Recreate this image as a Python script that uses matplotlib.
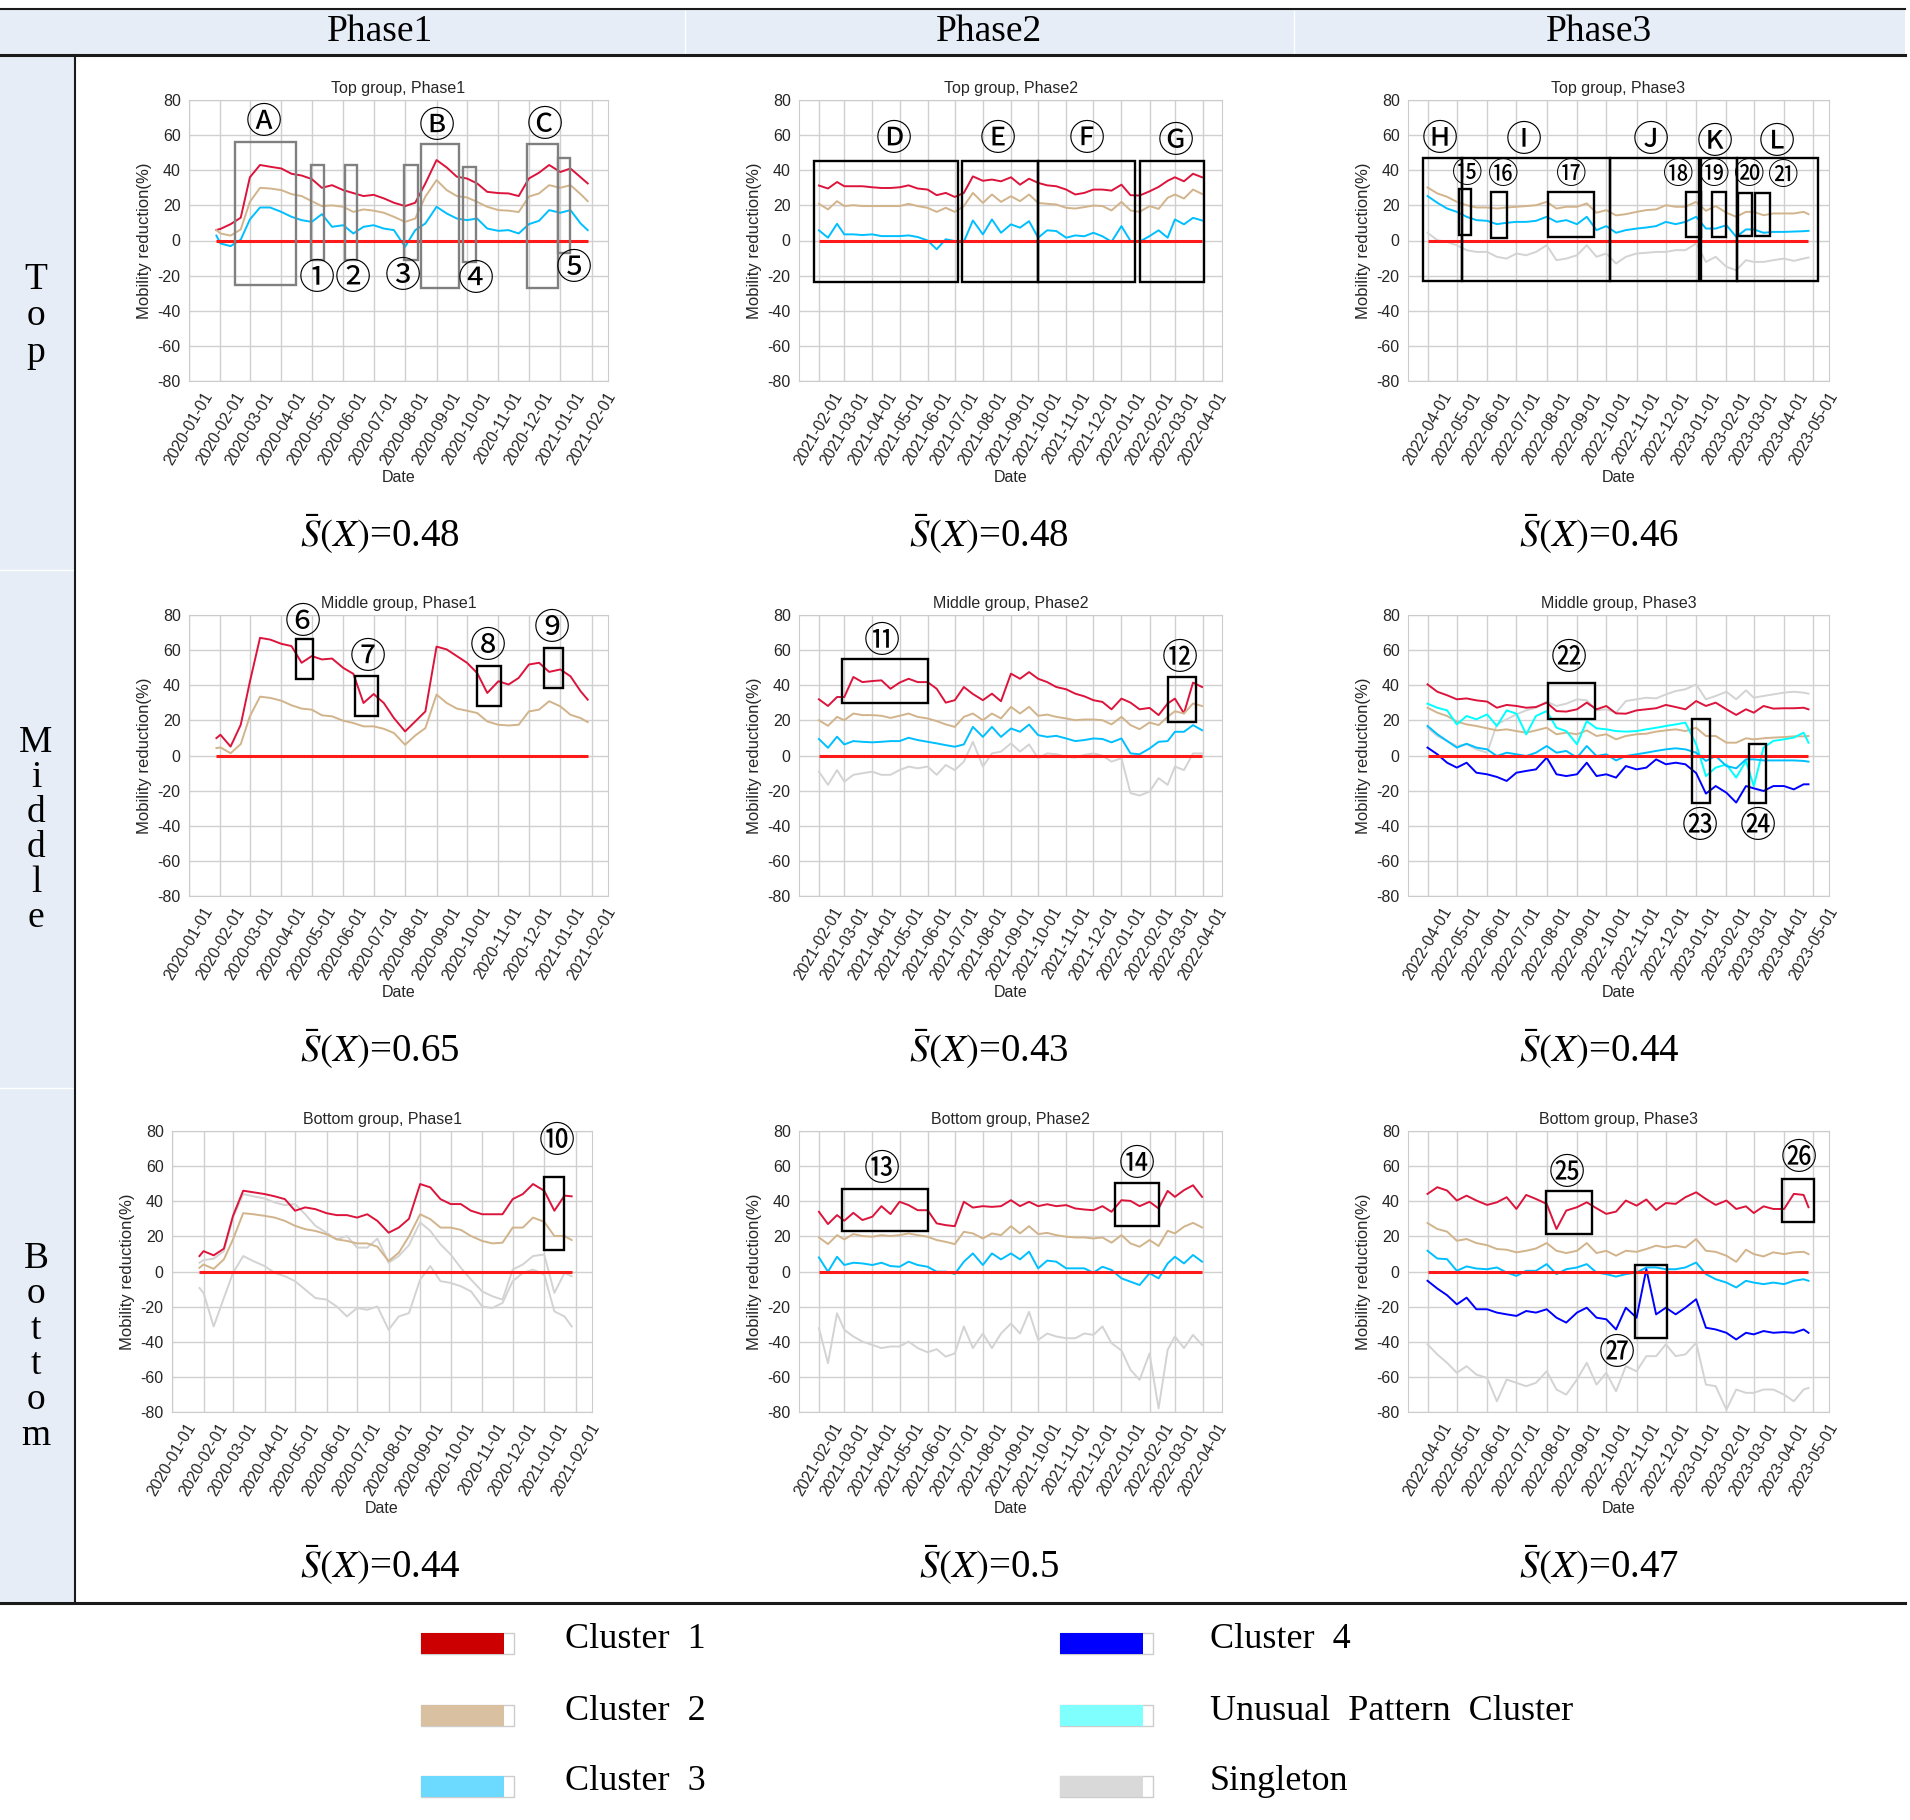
import numpy as np
import pandas as pd
import matplotlib
matplotlib.use('Agg')
import matplotlib.pyplot as plt
import matplotlib.dates as mdates
from matplotlib.patches import Rectangle
from matplotlib.lines import Line2D

plt.rcParams['mathtext.fontset'] = 'stix'
plt.rcParams['axes.unicode_minus'] = False

W, H = 1910, 1820

# line colours of the clusters
C1 = '#dc143c'
C2 = '#d2b48c'
C3 = '#00bfff'
C4 = '#0000ff'
UNU = '#00ffff'
SING = '#d3d3d3'

# ---------------------------------------------------------------- data
# values read off the figure on the 1st, 11th and 21st of each month
P1_START, P1_END = '2020-01-28', '2021-01-28'
P2_START, P2_END = '2021-02-01', '2022-03-31'
P3_START, P3_END = '2022-04-01', '2023-04-26'

top_p1_c1 = [6, 6.6, 9.3, 13, 36, 43, 42, 41, 38, 37, 35, 30, 31.5, 28.7, 27, 25.3, 26, 24, 21.5, 19.6,
             21.5, 32.5, 45.8, 41.6, 36.3, 35.3, 32.5, 27.7, 27, 26.8, 25.3, 35.3, 38.6, 43, 39, 41, 36, 32.5]
top_p1_c2 = [5.9, 4, 2.8, 6.3, 22, 30, 29.6, 28.7, 26.4, 25.3, 22.4, 19.6, 20, 19.2, 16.3, 17.7, 17, 15.8, 13.5, 10.6,
             12.5, 25, 34.4, 28.7, 25.3, 24.5, 22, 19.2, 17.3, 17, 16.2, 25, 26.8, 31.5, 30, 31.5, 26.4, 22.4]
top_p1_c3 = [2.8, -1.7, -3.2, 0.5, 12, 18.8, 18.8, 16.3, 13.5, 11.6, 10.6, 15, 7.8, 8.7, 4, 7.8, 8.7, 6.8, 5.9, -3.6,
             5.9, 9.7, 19.2, 15.4, 12.5, 11.6, 12.5, 6.8, 5.5, 5.9, 4, 9.3, 11.2, 17.3, 15.8, 17.3, 9.7, 5.9]

top_p2_c1 = [31.3, 29.6, 33.3, 30.9, 30.9, 30.9, 30.3, 29.9, 29.9, 30.3, 31.4, 29.6, 29, 25.8, 27.1, 24.8, 27.1, 36.5,
             34, 34.7, 33.7, 36, 31.8, 35.2, 32.8, 31.4, 30.9, 29, 26.2, 27.1, 29, 29, 28.4, 31.8, 25.8, 25.6,
             28, 30.5, 34, 36, 33.7, 38, 36]
top_p2_c2 = [20.9, 17.7, 22.4, 19.6, 20.1, 19.6, 19.6, 19.6, 19.6, 19.6, 20.9, 19.6, 18.6, 16.3, 18.6, 16.3, 19.6, 27.1,
             21.4, 26.2, 22, 25.2, 22.4, 26.2, 21.4, 20.9, 20.5, 18.6, 18.2, 19, 19.9, 19.6, 17.1, 22, 17.1, 16.3,
             19.6, 18, 24.3, 26.2, 23.9, 29, 26.5]
top_p2_c3 = [5.8, 1.6, 9.5, 3.5, 3.5, 3.1, 3.5, 2.5, 2.5, 2.5, 2.9, 2, 0, -5, 0.7, -0.3, -0.7, 11.4,
             3.5, 12, 4.4, 9.2, 7.3, 11, 1.6, 5.8, 5.4, 1.6, 2.9, 2.4, 4.4, 2.4, -0.7, 8.2, -0.3, -0.7,
             2.5, 5.8, 1.6, 12, 9.2, 12.9, 11.4]

top_p3_c2 = [30.2, 26.8, 24.9, 22, 20.1, 18.8, 18.8, 18.2, 18.8, 19.2, 19.6, 20.1, 22, 18.2, 19.2, 19.2, 21.1, 15.8,
             17.3, 14.3, 15, 16.3, 17.3, 17.7, 20.1, 19.2, 19.2, 22, 16.9, 19.6, 15.8, 13.5, 16.3, 16.3, 14.4, 15.4,
             15.4, 15.4, 16.3, 15]
top_p3_c3 = [25.3, 21.5, 18.2, 16.3, 13.5, 11.6, 11.2, 9.3, 10.1, 10.6, 10.6, 11.2, 13.5, 10.6, 11.6, 9.3, 13.5, 5.9,
             8.2, 4.4, 5.9, 6.8, 7.4, 8.2, 10.6, 9.3, 10.6, 13.5, 6.8, 6.8, 8.7, 2.1, 6.3, 6.3, 4.4, 4.9,
             4.9, 5.1, 5.3, 5.5]
top_p3_single = [4.4, 0.2, -0.8, -2.7, -5.5, -6.5, -6.5, -9.3, -10.3, -7.4, -8.4, -6.5, -2.7, -11.2, -10.3, -8.4,
                 -2.7, -9.3, -7.4, -13.1, -9.3, -7.4, -7, -6.5, -6.5, -5.5, -5.5, -1.7, -12.2, -9.3, -15, -16.9,
                 -11.2, -12.2, -12.2, -11.2, -10.3, -11.6, -10.3, -9.7]

mid_p1_c1 = [9.9, 11.8, 5.1, 17.5, 42, 67, 66, 63.6, 62.3, 52.8, 56.6, 54.7, 55.2, 49.9, 46.5, 29.9, 35, 29.9, 21.3,
             13.7, 19.4, 25.1, 62, 60.4, 56.6, 52.8, 47, 35.6, 42.3, 40.4, 44.2, 51.8, 52.8, 47.6, 49, 45.1, 36.6, 31.8]
mid_p1_c2 = [4.2, 4.6, 1.3, 6.5, 22.3, 33.5, 32.8, 31.2, 28.6, 26.7, 26.1, 22.9, 22.3, 19.8, 18.5, 16.6, 16.6, 15.2,
             12.8, 6.1, 11.4, 15.6, 34.7, 29.9, 26.7, 25.5, 24.2, 19.4, 17.5, 17.1, 17.5, 25.1, 26.1, 30.9, 28, 23.2,
             21.3, 19]

mid_p2_c1 = [32, 28.2, 33.3, 33.3, 44.7, 41.8, 42.4, 42.8, 38, 41.5, 43.7, 41.8, 41.8, 38, 30.1, 31.5, 39, 35,
             31.5, 35.2, 30.9, 46.6, 43.7, 47.5, 43.7, 41.8, 39, 37.7, 35.2, 33.7, 31.5, 30.5, 26.3, 32.4, 30.1, 26.3,
             27.1, 23, 29.6, 32.4, 24, 41.5, 39]
mid_p2_c2 = [20.1, 16.9, 22, 20.1, 23.9, 23, 23, 22.6, 21.4, 22.6, 23.9, 22, 21.1, 19.6, 17.7, 16.3, 22, 23.9,
             20.1, 23.9, 21.1, 27.7, 23.9, 27.7, 22.6, 23.3, 22, 21.1, 20.1, 20.5, 20.5, 20.1, 17.7, 22, 17.3, 15,
             18.8, 17.3, 22, 25.2, 23.9, 29.6, 28.2]
mid_p2_c3 = [9.4, 4.4, 10.7, 6.3, 8.2, 7.8, 7.5, 7.8, 8.2, 8.2, 10.1, 8.8, 7.8, 6.9, 5.9, 5, 6.3, 16.3,
             10.6, 16.3, 10.6, 15.4, 13.5, 17.6, 11.6, 10.6, 11.2, 9.7, 8.2, 8.8, 9.7, 9.4, 7.5, 9.7, 1.2, 0.7,
             4, 7.8, 8.2, 13.5, 13.5, 17.3, 14.4]
mid_p2_single = [-9.2, -16.7, -8.3, -14.9, -11, -10.1, -9.2, -11, -11, -8.3, -6.3, -7.3, -6.3, -11, -5.4, -8.3,
                 -3.5, 7.8, -6.3, 1.2, 2.2, 6.9, 2.2, 6.3, -1.6, 1.2, 0.7, -0.7, -1.2, 0.3, 1.2, -0.1, -3.5,
                 -1.6, -21.4, -22.8, -20.6, -12.9, -16.7, -6.3, -8.3, 1.2, 1.2]

mid_p3_c1 = [40.5, 36.3, 34.3, 32, 32.5, 31.4, 30.7, 27.2, 28.8, 28.2, 27.2, 27.6, 30.1, 25.3, 25, 26.3, 30.1, 26.3,
             28.2, 24, 23.8, 25.7, 26.3, 26.9, 28.8, 27.6, 26.3, 31, 28.2, 30.1, 26.3, 23.1, 26.3, 24.4, 28.2, 26.7,
             26.9, 26.9, 27.2, 26.3]
mid_p3_single = [15.8, 11.1, 8.3, 5.4, 6.4, 3.5, 1.6, 17.7, 20.6, 23.4, 25.7, 27.2, 30.7, 28.2, 29.5, 32, 31.4,
                 25.7, 26.3, 24.4, 31, 32, 32.9, 32.5, 34.8, 36.7, 37.7, 40.5, 32, 33.9, 36.3, 32, 37.1, 32.9,
                 33.9, 34.8, 35.8, 36.3, 35.8, 35.2]
mid_p3_unusual = [29.5, 27.2, 25.7, 17.7, 22.5, 20.6, 23.4, 16.8, 25.7, 23.8, 12, 22.5, 25.3, 15.8, 13.9, 6.4, 19.6,
                  15.5, 14.9, 13.9, 13.6, 13.9, 14.9, 15.8, 16.8, 17.7, 18.7, 6.4, -11.7, -6.9, -5.1, -12.6, -3.1,
                  -17.4, 4.5, 8.3, 9.2, 10.2, 13, 7.3]
mid_p3_c2 = [27.2, 24.4, 22.5, 19.3, 17.7, 16.8, 15.5, 14.3, 14.9, 13.9, 13, 14.3, 15.8, 12.1, 13, 12.1, 14.3, 11.1,
             12.1, 9.2, 11.1, 12.1, 12.4, 13.6, 14.3, 14.9, 13.9, 15.8, 11.1, 11.1, 7.3, 7.3, 9.8, 9.2, 9.8, 10.2,
             10.5, 10.9, 10.9, 11.1]
mid_p3_c3 = [16.8, 12.1, 8.3, 4.5, 6.7, 4.5, 3.5, -0.3, 1.6, 0.7, -0.3, 1.6, 5.4, 1.6, 2.6, -1.2, 5.4, -0.3,
             0.7, -2.8, -0.3, 0.7, 1.6, 2.6, 3.5, 4.1, 3.5, 1.6, -3.1, -0.3, -6, -7.3, -2.2, -2.2, -2.8, -2.8,
             -2.8, -2.8, -3.1, -3.5]
mid_p3_c4 = [4.5, 0.7, -4.1, -6.9, -4.1, -9.8, -10.7, -12.2, -14.5, -9.8, -8.8, -7.9, -1.2, -10.7, -11.7, -10.7,
             -4.1, -11.7, -10.7, -12.6, -6, -7.9, -6.9, -2.2, -5, -4.1, -5, -10, -21.7, -17.4, -21.2, -26.8,
             -17.4, -18.7, -20.2, -17.4, -17.4, -19.3, -16.4, -16.4]

bot_p1_c1 = [8.8, 11.6, 9.2, 13, 31.7, 46, 45.1, 44.1, 42.8, 41.2, 34.6, 36.5, 35.5, 33.2, 32.1, 32.1, 30.7, 32.6,
             28.8, 22.1, 25, 30, 49.8, 47.9, 41.2, 38.4, 38.4, 34.6, 32.6, 32.6, 32.6, 41.2, 44.1, 49.8, 46, 34.6,
             43.2, 42.8]
bot_p1_c2 = [2.1, 4, 1.5, 6.9, 18.3, 33.2, 32.6, 31.7, 30.7, 28.8, 26, 24.1, 23.1, 21.2, 18.3, 17.4, 16, 16,
             14.1, 5.9, 10.7, 20, 32.6, 29.8, 25, 25, 23.7, 20.2, 17.4, 16, 16.4, 25, 25, 30.7, 28.3, 20.2,
             20.2, 17.9]
bot_p1_single_a = [5, 6.5, 7.3, 11.6, 30.7, 44.1, 42.8, 41.6, 39.3, 37.8, 38.4, 32.6, 26, 22.1, 18.3, 20.2, 13.6,
                   13.6, 18.7, 5, 8.8, 15, 28, 23.1, 15.5, 9.7, 2.1, -4.6, -11.3, -14.1, -16, 1.1, 4, 8.8, 9.7,
                   -12.2, -0.8, -2.7]
bot_p1_single_b = [-9.4, -12.2, -31.3, -15.1, -0.8, 8.8, 5.9, 3.1, -0.8, -2.7, -5.5, -10.3, -15.1, -16, -19.9,
                   -25.6, -20.8, -21.8, -19.9, -33.2, -25.6, -23.7, -4.6, 3.1, -5.5, -6.5, -8.4, -11.3, -19.9,
                   -20.8, -17.9, -5.5, -0.8, 1.1, -1.7, -22.7, -25.6, -31.3]

bot_p2_c1 = [34, 27, 32.1, 28.9, 33.4, 29.3, 31.2, 37.2, 32.7, 39.7, 37.8, 34.9, 34.9, 27.4, 26.4, 25.8, 39.7, 36.4,
             37.2, 36.8, 37.2, 40.6, 37.2, 39.7, 37.2, 38.3, 37.2, 37.8, 35.9, 35.3, 34.9, 37.2, 34, 40.6, 40.2, 37.2,
             39.7, 35.9, 45.9, 42.5, 46.3, 49.1, 42.5]
bot_p2_c2 = [19.4, 15.6, 20.7, 18.3, 21.3, 20.2, 19.8, 20.7, 20.2, 20.7, 21.7, 20.7, 19.8, 17.9, 16.9, 15.6, 22.6,
             21.7, 18.8, 21.7, 20.7, 25.8, 21.7, 25.8, 21.3, 22, 20.7, 19.8, 19.4, 19.4, 18.8, 19.4, 16.4, 20.7,
             16, 14.1, 17.9, 14.5, 23.2, 21.7, 25.5, 27.7, 25.1]
bot_p2_c3 = [8, -0.1, 8.4, 3.7, 5, 4.6, 3.7, 5, 3.1, 2.7, 5.6, 3.7, 2.7, -0.1, -0.1, -1.4, 5.6, 10.3, 3.7, 10.3,
             6.9, 10.3, 6.9, 11.3, 1.8, 6.2, 5.6, 1.8, 1.8, 1.8, -0.7, 2.7, 0.9, -3.9, -5.8, -7.7, -1, -3.9, 4.6,
             8.4, 4.6, 9.4, 5.6]
bot_p2_single = [-32.3, -52.2, -23.8, -33.2, -37, -39.9, -41.8, -43.6, -42.7, -42.7, -39.9, -43.6, -46, -44.2,
                 -48.5, -46.6, -31.3, -43.6, -35.3, -43.6, -35.3, -29.6, -35.3, -23, -39, -35.3, -37, -38, -38,
                 -35.3, -36.1, -31.3, -40.8, -45, -56, -61.7, -46.6, -78, -44.6, -37, -43.6, -36.1, -41.8]

bot_p3_c1 = [44.2, 48, 46.1, 40.4, 43.2, 40.4, 37.9, 39.4, 42.3, 35.6, 43.6, 41.3, 38.5, 24.2, 34.7, 36.6, 39.4, 36,
             32.8, 34.1, 40.4, 37.5, 41, 35, 39, 38.5, 42.3, 45.1, 41.3, 37.9, 40.4, 35.6, 37.1, 33.3, 37.1, 35.6,
             35.6, 44.2, 43.6, 36.6]
bot_p3_c2 = [27.6, 24.2, 22.7, 17.5, 18.5, 16.2, 15, 12.8, 12.4, 10.9, 11.8, 13.1, 16.2, 11.8, 10.5, 11.8, 16.2,
             10.5, 11.8, 9, 11.8, 11.2, 12.8, 14.7, 13.7, 14.7, 13.7, 18.5, 11.8, 11.2, 9, 5.5, 12.4, 9.9, 8.6,
             10.9, 9.9, 10.9, 11.2, 9.9]
bot_p3_c3 = [11.8, 7.4, 7, 0.4, 2.9, 1.7, 1.3, 2.3, -0.6, -2.5, 0.4, 0.4, 4.2, -1.5, 1.3, 2.3, 4.2, -0.6, -1.5,
             -2.9, -1.5, -0.6, 2.3, 2.3, 1.3, 1.3, 2.3, 5.1, -1.5, -4.4, -6.3, -9.1, -5.3, -6.3, -7.2, -6.3, -7.2,
             -5.3, -4.4, -5.3]
bot_p3_c4 = [-5.3, -9.7, -13.5, -18.7, -14.9, -21.5, -21.5, -23.4, -24.4, -25.3, -22.5, -23.4, -21.5, -26.3, -29.1,
             -23.4, -20.6, -26.3, -27.2, -33, -20.6, -26.3, 1.3, -24.4, -20.6, -24.4, -20.6, -15.8, -32, -33,
             -34.9, -38.7, -34.9, -35.8, -33.9, -34.9, -34.5, -34.9, -33, -34.9]
bot_p3_single = [-41.5, -47.2, -52, -57.7, -53.9, -58.7, -60.6, -73.9, -61.5, -63.4, -65.3, -63.4, -56.8, -67.2,
                 -70.1, -61.5, -52, -64.4, -57.7, -68.2, -53.9, -56.8, -48.2, -48.2, -41.5, -48.2, -47.2, -40.6,
                 -64.4, -65.3, -78.7, -67.2, -69.1, -69.1, -67.2, -67.2, -70.1, -73.9, -67.2, -66.3]

# highlighted periods: (start, end, lower, upper)
top_p1_boxes = [('2020-02-15', '2020-04-15', -25.5, 56.2), ('2020-04-30', '2020-05-13', -11.2, 43.1),
                ('2020-06-03', '2020-06-15', -11.2, 43.1), ('2020-07-31', '2020-08-14', -11.2, 43.1),
                ('2020-08-17', '2020-09-23', -26.8, 54.9), ('2020-09-27', '2020-10-10', -12.5, 41.8),
                ('2020-11-29', '2020-12-30', -26.8, 54.9), ('2020-12-30', '2021-01-11', -7.0, 47.1)]
top_p1_marks = [('2020-03-15', 66.7, 'Ⓐ'), ('2020-09-01', 64.8, 'Ⓑ'), ('2020-12-17', 65.2, 'Ⓒ'),
                ('2020-05-06', -21.7, '①'), ('2020-06-10', -22, '②'), ('2020-07-30', -21, '③'),
                ('2020-10-10', -22.6, '④'), ('2021-01-14', -16.3, '⑤')]
top_p2_boxes = [('2021-01-27', '2021-07-04', -23.9, 45.4), ('2021-07-09', '2021-10-01', -23.9, 45.4),
                ('2021-10-01', '2022-01-16', -23.9, 45.4), ('2022-01-22', '2022-04-02', -23.9, 45.4)]
top_p2_marks = [('2021-04-25', 57.3, 'Ⓓ'), ('2021-08-18', 57.3, 'Ⓔ'), ('2021-11-24', 57.3, 'Ⓕ'),
                ('2022-03-02', 56, 'Ⓖ')]
top_p3_boxes = [('2022-03-27', '2022-05-06', -23, 47.1), ('2022-05-06', '2022-10-05', -23, 47.1),
                ('2022-10-05', '2023-01-04', -23, 47.1), ('2023-01-06', '2023-02-12', -23, 47.1),
                ('2023-02-12', '2023-05-06', -23, 47.1),
                ('2022-05-03', '2022-05-15', 3.4, 29.1), ('2022-06-05', '2022-06-21', 1.7, 27.7),
                ('2022-08-02', '2022-09-18', 2.1, 27.7), ('2022-12-22', '2023-01-06', 2.1, 27.7),
                ('2023-01-17', '2023-02-01', 2.1, 27.7), ('2023-02-13', '2023-02-27', 2.6, 27.1),
                ('2023-03-02', '2023-03-18', 2.6, 27.1)]
top_p3_marks = [('2022-04-14', 57.2, 'Ⓗ'), ('2022-07-09', 56.6, 'Ⓘ'), ('2022-11-16', 56.8, 'Ⓙ'),
                ('2023-01-20', 55.7, 'Ⓚ'), ('2023-03-25', 55.3, 'Ⓛ'),
                ('2022-05-12', 37.8, '⑮'), ('2022-06-18', 37.2, '⑯'), ('2022-08-26', 37.2, '⑰'),
                ('2022-12-14', 37.2, '⑱'), ('2023-01-19', 37.2, '⑲'), ('2023-02-24', 36.8, '⑳'),
                ('2023-03-31', 36.5, '㉑')]
mid_p1_boxes = [('2020-04-15', '2020-05-02', 43.8, 66.5), ('2020-06-13', '2020-07-05', 22.3, 45.1),
                ('2020-10-11', '2020-11-04', 28.4, 51.2), ('2020-12-16', '2021-01-04', 38.5, 61.3)]
mid_p1_marks = [('2020-04-22', 75.6, '⑥'), ('2020-06-25', 55.6, '⑦'), ('2020-10-22', 61.9, '⑧'),
                ('2020-12-24', 71.8, '⑨')]
mid_p2_boxes = [('2021-02-27', '2021-06-01', 30.1, 54.7), ('2022-02-21', '2022-03-24', 19.2, 44.7)]
mid_p2_marks = [('2021-04-11', 64.5, '⑪'), ('2022-03-06', 54.7, '⑫')]
mid_p3_boxes = [('2022-08-02', '2022-09-19', 20.6, 41.1), ('2022-12-28', '2023-01-15', -27, 20.6),
                ('2023-02-24', '2023-03-13', -27, 6.4)]
mid_p3_marks = [('2022-08-24', 54.8, '㉒'), ('2023-01-05', -40.5, '㉓'), ('2023-03-05', -40.5, '㉔')]
bot_p1_boxes = [('2021-01-01', '2021-01-20', 12, 54)]
bot_p1_marks = [('2021-01-13', 73.7, '⑩')]
bot_p2_boxes = [('2021-02-27', '2021-06-01', 23.2, 47.2), ('2021-12-25', '2022-02-11', 25.8, 50.5)]
bot_p2_marks = [('2021-04-11', 57.7, '⑬'), ('2022-01-18', 60.5, '⑭')]
bot_p3_boxes = [('2022-07-31', '2022-09-16', 21.3, 46.1), ('2023-03-30', '2023-05-02', 28.4, 52.8),
                ('2022-10-30', '2022-12-02', -38.1, 3.8)]
bot_p3_marks = [('2022-08-22', 55.6, '㉕'), ('2023-04-16', 64.2, '㉖'), ('2022-10-12', -47.2, '㉗')]

scores = [['0.48', '0.48', '0.46'], ['0.65', '0.43', '0.44'], ['0.44', '0.5', '0.47']]
phases = ['Phase1', 'Phase2', 'Phase3']
groups = ['Top', 'Middle', 'Bottom']

legend_entries = [('Cluster  1', '#cc0000'), ('Cluster  2', '#d8c0a0'), ('Cluster  3', '#6cd9ff'),
                  ('Cluster  4', '#0000ff'), ('Unusual  Pattern  Cluster', '#80ffff'), ('Singleton', '#d9d9d9')]


def ten_day_dates(start, end):
    # phase start, then the 1st / 11th / 21st of every month, then phase end
    start, end = pd.Timestamp(start), pd.Timestamp(end)
    days = pd.date_range(start, end, freq='D')
    grid = [d for d in days if d.day in (1, 11, 21) and d != start and d != end]
    return [start] + grid + [end]


phase_dates = {1: ten_day_dates(P1_START, P1_END), 2: ten_day_dates(P2_START, P2_END),
               3: ten_day_dates(P3_START, P3_END)}
phase_xlim = {1: ('2020-01-01', '2021-02-17'), 2: ('2021-01-10', '2022-04-22'), 3: ('2022-03-12', '2023-05-17')}
phase_ticks = {1: ('2020-01-01', '2021-02-01'), 2: ('2021-02-01', '2022-04-01'), 3: ('2022-04-01', '2023-05-01')}

# row, column, lines, boxes, circled marks, box colour, size of circled numbers
panels = [
    (0, 0, [(C1, top_p1_c1), (C2, top_p1_c2), (C3, top_p1_c3)], top_p1_boxes, top_p1_marks, '#808080', 26),
    (0, 1, [(C1, top_p2_c1), (C2, top_p2_c2), (C3, top_p2_c3)], top_p2_boxes, top_p2_marks, 'black', 26),
    (0, 2, [(SING, top_p3_single), (C2, top_p3_c2), (C3, top_p3_c3)], top_p3_boxes, top_p3_marks, 'black', 22),
    (1, 0, [(C1, mid_p1_c1), (C2, mid_p1_c2)], mid_p1_boxes, mid_p1_marks, 'black', 26),
    (1, 1, [(SING, mid_p2_single), (C1, mid_p2_c1), (C2, mid_p2_c2), (C3, mid_p2_c3)],
     mid_p2_boxes, mid_p2_marks, 'black', 26),
    (1, 2, [(SING, mid_p3_single), (C1, mid_p3_c1), (C2, mid_p3_c2), (UNU, mid_p3_unusual), (C3, mid_p3_c3),
            (C4, mid_p3_c4)], mid_p3_boxes, mid_p3_marks, 'black', 26),
    (2, 0, [(SING, bot_p1_single_a), (SING, bot_p1_single_b), (C1, bot_p1_c1), (C2, bot_p1_c2)],
     bot_p1_boxes, bot_p1_marks, 'black', 26),
    (2, 1, [(SING, bot_p2_single), (C1, bot_p2_c1), (C2, bot_p2_c2), (C3, bot_p2_c3)],
     bot_p2_boxes, bot_p2_marks, 'black', 26),
    (2, 2, [(SING, bot_p3_single), (C1, bot_p3_c1), (C2, bot_p3_c2), (C3, bot_p3_c3), (C4, bot_p3_c4)],
     bot_p3_boxes, bot_p3_marks, 'black', 26),
]

# ---------------------------------------------------------------- layout (pixels of the 1910x1820 canvas)
row_y = [(100, 381), (615, 896), (1131, 1412)]
col_x = [[(189, 608), (799, 1222), (1408, 1829)],
         [(189, 608), (799, 1222), (1408, 1829)],
         [(172, 592), (799, 1222), (1408, 1829)]]
col_centre = [380, 989, 1599]
row_letters = [(316, 36.5), (830, 35), (1347, 35.4)]
score_y = [534, 1049, 1565]

fig = plt.figure(figsize=(W / 100, H / 100), dpi=100)


def fx(x):
    return x / W


def fy(y):
    return 1 - y / H


BAND = '#e6edf7'
fig.patches.append(Rectangle((0, fy(55)), fx(1905), fy(10) - fy(55), transform=fig.transFigure,
                             fc=BAND, ec='none', zorder=0))
fig.patches.append(Rectangle((0, fy(1603)), fx(75), fy(55) - fy(1603), transform=fig.transFigure,
                             fc=BAND, ec='none', zorder=0))
for xs in (685, 1294):
    fig.lines.append(Line2D([fx(xs), fx(xs)], [fy(11), fy(54)], transform=fig.transFigure, color='white', lw=1))
for ys in (570, 1088):
    fig.lines.append(Line2D([0, fx(74)], [fy(ys), fy(ys)], transform=fig.transFigure, color='white', lw=1))
fig.lines.append(Line2D([0, fx(1905)], [fy(9), fy(9)], transform=fig.transFigure, color='#1a1a1a', lw=1.5))
fig.lines.append(Line2D([0, fx(1905)], [fy(55), fy(55)], transform=fig.transFigure, color='#1a1a1a', lw=2.2))
fig.lines.append(Line2D([fx(75), fx(75)], [fy(55), fy(1603)], transform=fig.transFigure, color='#1a1a1a', lw=1.5))
fig.lines.append(Line2D([0, fx(1905)], [fy(1603), fy(1603)], transform=fig.transFigure, color='#1a1a1a', lw=2.2))

serif = 'Liberation Serif'
for c, name in enumerate(phases):
    fig.text(fx(col_centre[c]), fy(32), name, ha='center', va='center', fontsize=27, family=serif)
for r, word in enumerate(groups):
    centre, step = row_letters[r]
    n = len(word)
    for i, ch in enumerate(word):
        fig.text(fx(36), fy(centre + (i - (n - 1) / 2) * step), ch, ha='center', va='center',
                 fontsize=27, family=serif)

for r in range(3):
    for c in range(3):
        fig.text(fx(col_centre[c]), fy(score_y[r]), r'$\bar{S}(X)$=' + scores[r][c], ha='center', va='center',
                 fontsize=28, family=serif)

circle_font = ['Noto Sans CJK JP', 'DejaVu Sans']

for r, c, series, boxes, marks, box_color, mark_size in panels:
    x0, x1 = col_x[r][c]
    y0, y1 = row_y[r]
    ax = fig.add_axes([fx(x0), fy(y1), fx(x1) - fx(x0), fy(y0) - fy(y1)])
    phase = c + 1
    dates = phase_dates[phase]
    for color, vals in series:
        if len(vals) != len(dates):
            raise ValueError(f'{groups[r]} phase{phase}: {len(vals)} values for {len(dates)} dates')
        ax.plot(dates, vals, color=color, lw=1.4, zorder=2)
    ax.hlines(0, dates[0], dates[-1], color='#ff1a1a', lw=2.2, zorder=3)

    for start, end, lo, hi in boxes:
        s = mdates.date2num(pd.Timestamp(start))
        e = mdates.date2num(pd.Timestamp(end))
        ax.add_patch(Rectangle((s, lo), e - s, hi - lo, fill=False, ec=box_color, lw=1.7, zorder=5))
    for day, y, ch in marks:
        # circled letters keep the full size, circled numbers use the panel's size
        size = 26 if 0x24B6 <= ord(ch) <= 0x24E9 else mark_size
        ax.text(pd.Timestamp(day), y, ch, ha='center', va='center', fontsize=size, family=circle_font, zorder=6)

    ax.set_ylim(-80, 80)
    ax.set_yticks(range(-80, 81, 20))
    ax.set_xlim(pd.Timestamp(phase_xlim[phase][0]), pd.Timestamp(phase_xlim[phase][1]))
    ax.set_xticks(pd.date_range(*phase_ticks[phase], freq='MS'))
    ax.xaxis.set_major_formatter(mdates.DateFormatter('%Y-%m-%d'))
    ax.tick_params(axis='both', length=0, labelsize=11.5, labelcolor='#262626', pad=6)
    plt.setp(ax.get_xticklabels(), rotation=60, ha='center', family='Liberation Sans')
    plt.setp(ax.get_yticklabels(), family='Liberation Sans')
    ax.grid(True, color='#d0d0d0', lw=1)
    ax.set_axisbelow(True)
    for sp in ax.spines.values():
        sp.set_color('#cccccc')
    ax.set_title(f'{groups[r]} group, {phases[c]}', fontsize=11.5, color='#262626', pad=5,
                 family='Liberation Sans')
    ax.set_xlabel('Date', fontsize=11.5, color='#262626', labelpad=2, family='Liberation Sans')
    ax.set_ylabel('Mobility reduction(%)', fontsize=12, color='#262626', family='Liberation Sans')

# legend below the table
legend_cols = [(421, 565), (1060, 1210)]
legend_rows = [1643, 1715, 1786]
for i, (label, color) in enumerate(legend_entries):
    px, tx = legend_cols[i // 3]
    yc = legend_rows[i % 3]
    fig.patches.append(Rectangle((fx(px), fy(yc + 10.5)), fx(93), fy(0) - fy(21), transform=fig.transFigure,
                                 fc='white', ec='#cccccc', lw=1))
    fig.patches.append(Rectangle((fx(px), fy(yc + 10.5)), fx(83), fy(0) - fy(21), transform=fig.transFigure,
                                 fc=color, ec='none'))
    fig.text(fx(tx), fy(yc - 4), label, ha='left', va='center', fontsize=26, family=serif)

fig.savefig('out.png', dpi=100)
